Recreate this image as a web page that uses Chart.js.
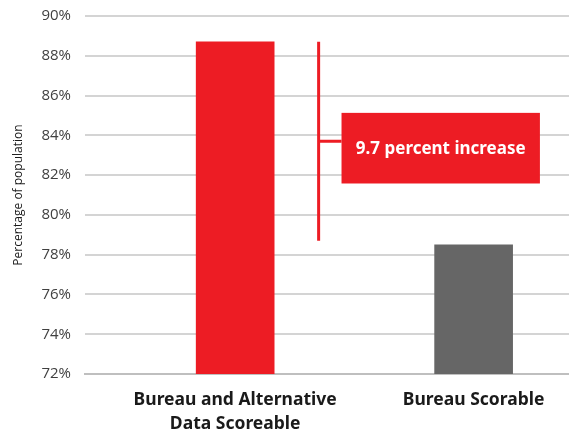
<!DOCTYPE html>
<html>
<head>
<meta charset="utf-8">
<script src="https://cdn.jsdelivr.net/npm/chart.js@4/dist/chart.umd.min.js"></script>
<style>
  html, body { margin: 0; padding: 0; background: #ffffff; overflow: hidden; }
  #wrap { width: 569px; height: 439px; margin-top: -7px; }
</style>
</head>
<body>
<div id="wrap"><canvas id="chart"></canvas></div>
<script>
// Données du graphique
const categories = [['Bureau and Alternative', 'Data Scoreable'], 'Bureau Scorable'];
const positions = [0, 1];
const values = [88.7, 78.5];
const barColors = ['#ed1c24', '#666666'];
const yTicks = [72, 74, 76, 78, 80, 82, 84, 86, 88, 90];
const annotationText = '9.7 percent increase';

// Annotation (crochet + encadré) en unités des axes
const bracketX = 0.35;
const boxX = [0.446, 1.278];
const boxY = [81.58, 85.13];

const bracketPlugin = {
    id: 'bracket',
    afterDatasetsDraw(chart) {
        const { ctx, scales: { x, y } } = chart;
        const bx = x.getPixelForValue(bracketX);
        const yTop = y.getPixelForValue(values[0]);
        const yBot = y.getPixelForValue(values[1]) - 4;
        const left = x.getPixelForValue(boxX[0]);
        const right = x.getPixelForValue(boxX[1]);
        const top = y.getPixelForValue(boxY[1]);
        const bottom = y.getPixelForValue(boxY[0]);
        const mid = (top + bottom) / 2;

        ctx.save();
        ctx.strokeStyle = '#ed1c24';
        ctx.lineWidth = 3;
        ctx.beginPath();
        ctx.moveTo(bx, yTop);
        ctx.lineTo(bx, yBot);
        ctx.moveTo(bx, mid - 7);
        ctx.lineTo(left, mid - 7);
        ctx.stroke();

        ctx.fillStyle = '#ed1c24';
        ctx.fillRect(left, top, right - left, bottom - top);

        ctx.fillStyle = '#ffffff';
        ctx.font = 'bold 17px "Noto Sans", sans-serif';
        ctx.textAlign = 'center';
        ctx.textBaseline = 'middle';
        ctx.fillText(annotationText, (left + right) / 2, mid + 1);
        ctx.restore();
    }
};

new Chart(document.getElementById('chart'), {
    type: 'bar',
    data: {
        datasets: [{
            data: positions.map((p, i) => ({ x: p, y: values[i] })),
            backgroundColor: barColors,
            barThickness: 78,
            borderWidth: 0
        }]
    },
    options: {
        responsive: true,
        maintainAspectRatio: false,
        animation: false,
        layout: { padding: { top: 0, right: 0, bottom: -18, left: 11 } },
        plugins: {
            legend: { display: false },
            tooltip: { enabled: false }
        },
        scales: {
            x: {
                type: 'linear',
                offset: false,
                min: -0.63,
                max: 1.4,
                afterBuildTicks(axis) {
                    axis.ticks = positions.map(v => ({ value: v }));
                },
                ticks: {
                    autoSkip: false,
                    maxRotation: 0,
                    padding: 14,
                    color: '#1a1a1a',
                    font: { family: '"Noto Sans", sans-serif', size: 17.5, weight: 'bold', lineHeight: 1.37 },
                    callback: (v) => categories[positions.indexOf(v)]
                },
                grid: { display: false, drawTicks: false },
                border: { display: true, color: '#bfbfbf', width: 2 }
            },
            y: {
                min: yTicks[0],
                max: yTicks[yTicks.length - 1],
                afterBuildTicks(axis) {
                    axis.ticks = yTicks.map(v => ({ value: v }));
                },
                ticks: {
                    padding: 14,
                    color: '#404040',
                    font: { family: '"Open Sans", sans-serif', size: 15 },
                    callback: (v) => v + '%'
                },
                title: {
                    display: true,
                    text: 'Percentage of population',
                    color: '#1a1a1a',
                    font: { family: '"Open Sans", sans-serif', size: 12 },
                    padding: { top: 0, bottom: 2 }
                },
                grid: { color: '#d4d4d4', lineWidth: 2, drawTicks: false },
                border: { display: false }
            }
        }
    },
    plugins: [bracketPlugin]
});
</script>
</body>
</html>
